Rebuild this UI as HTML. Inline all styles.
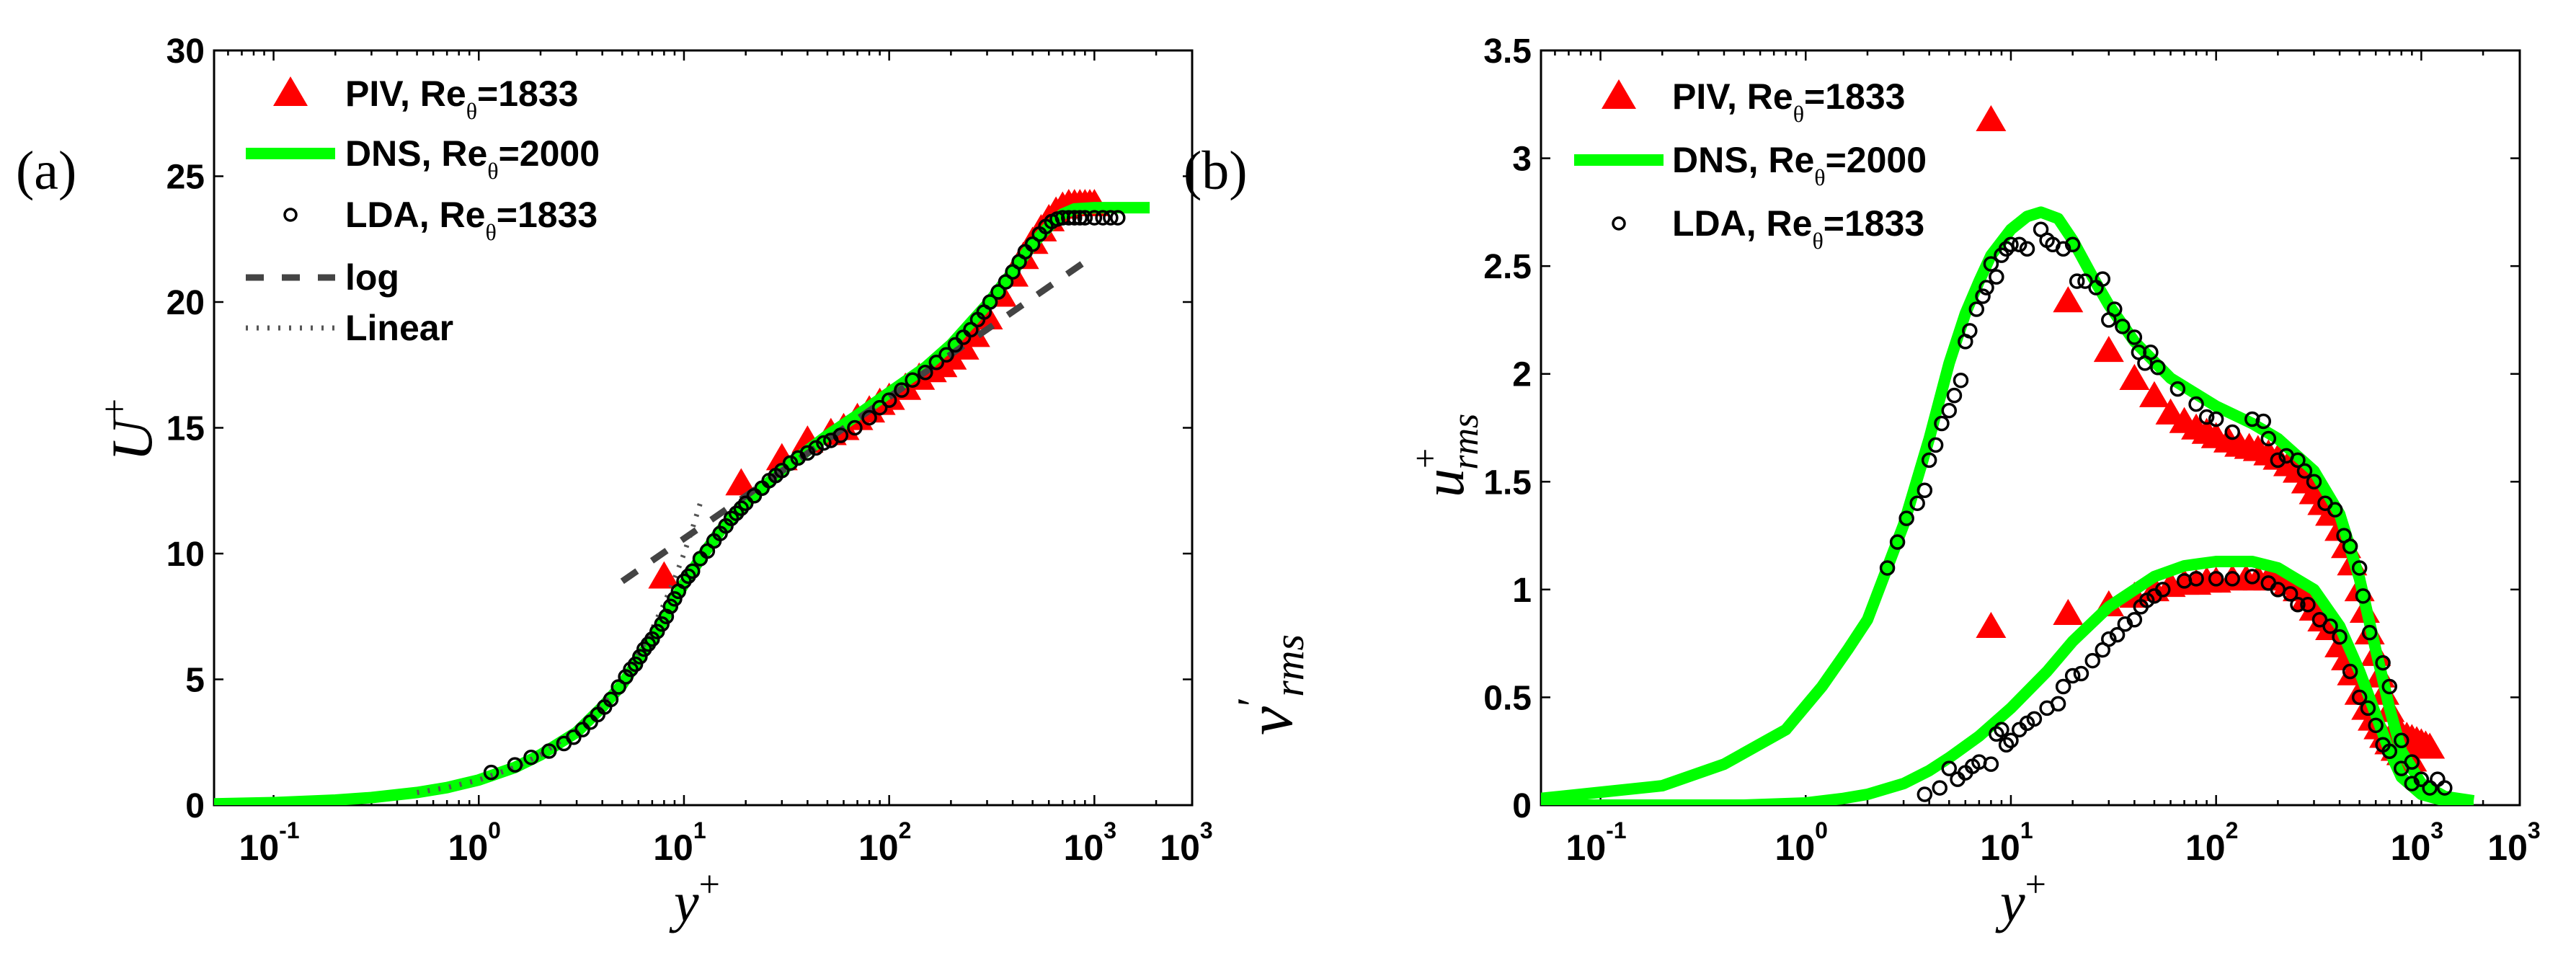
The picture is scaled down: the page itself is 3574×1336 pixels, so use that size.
<!DOCTYPE html>
<html><head><meta charset="utf-8"><style>
html,body{margin:0;padding:0;background:#fff}
svg{display:block}
.tk{font-family:"Liberation Sans Narrow","Liberation Sans",sans-serif;font-weight:bold;fill:#000}
.sr{font-family:"Liberation Serif","DejaVu Serif",serif;fill:#000}
</style></head><body>
<svg id="fig" width="3574" height="1336" viewBox="0 0 3574 1336" xmlns="http://www.w3.org/2000/svg">
<rect x="0" y="0" width="3574" height="1336" fill="#fff"/>
<text class="sr" x="22" y="262" font-size="76">(a)</text>
<text class="sr" x="1642" y="262" font-size="76">(b)</text>
<text class="sr" font-style="italic" font-size="80" transform="translate(210,640) rotate(-90)">U<tspan font-size="52" dy="-34" font-style="normal">+</tspan></text>
<text class="sr" font-style="italic" font-size="80" transform="translate(2030,690) rotate(-90)">u<tspan font-size="50" dy="-36" font-style="normal">+</tspan><tspan font-size="52" dy="56" dx="-30">rms</tspan></text>
<text class="sr" font-style="italic" font-size="90" transform="translate(1792,1020) rotate(-90)">v<tspan font-size="60" dy="-34" font-style="normal">′</tspan><tspan font-size="58" dy="50">rms</tspan></text>
<text class="sr" font-style="italic" font-size="78" x="935" y="1278">y<tspan font-size="52" dy="-34" font-style="normal">+</tspan></text>
<text class="sr" font-style="italic" font-size="78" x="2775" y="1278">y<tspan font-size="52" dy="-34" font-style="normal">+</tspan></text>
</svg>
<script>
// ---------- data: left panel (mean velocity) ----------
const dnsU_y=[0.05,0.1,0.2,0.3,0.5,0.7,1,1.5,2,3,4,5,7,10,12,15,20,30,40,50,70,100,150,200,300,400,500,600,700,800,1000,1400,1860];
const dnsU_v=[0.05,0.1,0.2,0.3,0.5,0.7,1,1.5,2,2.9,3.9,4.8,6.6,8.8,9.8,10.9,12.0,13.3,14.1,14.7,15.5,16.4,17.4,18.3,19.9,21.2,22.3,23.0,23.5,23.7,23.75,23.75,23.75];
const pivU_y=[8,19,30,40,52,60,70,80,90,100,120,140,160,180,200,230,260,300,350,400,450,500,550,600,650,700,750,800,850,900,950,1000];
const pivU_v=[9.1,12.8,13.8,14.5,14.8,15.0,15.4,15.7,16.0,16.2,16.6,17.0,17.3,17.5,17.8,18.2,18.7,19.4,20.3,21.1,21.8,22.4,22.9,23.3,23.6,23.8,23.9,23.9,23.9,23.9,23.9,23.9];
const ldaU_y=[1.15,1.5,1.8,2.2,2.6,2.9,3.2,3.5,3.8,4.1,4.4,4.8,5.2,5.5,5.8,6.1,6.4,6.7,7,7.4,7.8,8.2,8.6,9,9.4,10,10.5,11,12,13,14,15,16,17,18,19,20,22,24,26,28,30,33,36,40,44,48,52,58,68,80,90,100,115,130,150,170,190,210,230,250,270,290,310,340,370,400,430,460,500,540,580,620,660,700,750,800,850,900,1000,1100,1200,1300];
const ldaU_v=[1.3,1.6,1.9,2.15,2.45,2.7,3.0,3.3,3.6,3.9,4.2,4.7,5.1,5.4,5.6,5.9,6.2,6.4,6.6,6.9,7.2,7.5,7.9,8.2,8.5,8.9,9.1,9.3,9.8,10.1,10.5,10.8,11.1,11.4,11.6,11.8,12.0,12.3,12.6,12.9,13.1,13.3,13.6,13.8,14.0,14.2,14.4,14.5,14.7,15.0,15.4,15.8,16.1,16.5,16.9,17.2,17.6,17.9,18.3,18.6,18.9,19.3,19.6,20.0,20.4,20.8,21.2,21.6,22.0,22.3,22.7,23.0,23.2,23.3,23.35,23.35,23.35,23.35,23.35,23.35,23.35,23.35,23.35];
const logLaw_y=[5,900];
const logLaw_v=[8.9,21.6];
const linLaw_y=[0.5,0.7,1,1.5,2,3,4,5,6,7,8,9,10,11,12];
const linLaw_v=[0.5,0.7,1,1.5,2,3,4,5,6,7,8,9,10,11,12];
const ticksU=[0,5,10,15,20,25,30];
const tickLabelsU=["0","5","10","15","20","25","30"];
// ---------- data: right panel (rms) ----------
const dnsUrms_y=[0.05,0.1,0.2,0.4,0.8,1.2,1.6,2,3,4,5,6,7,8,10,12,14,17,20,25,30,40,60,100,150,200,300,400,500,600,700,800,1000,1300,1800];
const dnsUrms_v=[0.03,0.06,0.09,0.19,0.35,0.55,0.72,0.86,1.3,1.7,2.05,2.28,2.43,2.55,2.67,2.73,2.75,2.72,2.62,2.45,2.32,2.15,1.98,1.85,1.77,1.70,1.55,1.35,1.05,0.72,0.45,0.25,0.1,0.04,0.02];
const dnsVrms_y=[0.05,0.5,1,1.5,2,3,4,5,7,10,15,20,30,50,70,100,150,200,300,400,500,600,700,800,1000,1300,1800];
const dnsVrms_v=[0.0,0.0,0.01,0.03,0.05,0.1,0.16,0.22,0.32,0.45,0.62,0.76,0.92,1.06,1.11,1.13,1.13,1.10,1.0,0.83,0.62,0.42,0.25,0.13,0.05,0.02,0.02];
const pivUrms_y=[8,19,30,40,50,60,70,80,90,100,115,130,145,160,180,200,225,250,275,300,330,360,400,430,460,500,530,560,600,630,660,700,750,800,850,900,950,1000,1050,1100];
const pivUrms_v=[3.18,2.34,2.11,1.98,1.9,1.82,1.78,1.75,1.73,1.71,1.69,1.67,1.66,1.65,1.63,1.61,1.58,1.55,1.5,1.45,1.4,1.35,1.28,1.2,1.12,1.0,0.9,0.8,0.7,0.6,0.52,0.44,0.36,0.33,0.32,0.31,0.3,0.29,0.28,0.27];
const pivVrms_y=[8,19,30,40,50,60,70,80,90,100,120,140,160,180,200,225,250,275,300,330,360,400,430,460,500,540,580,620,660,700,750,800,850,900];
const pivVrms_v=[0.83,0.89,0.93,0.97,1.0,1.02,1.03,1.03,1.04,1.04,1.05,1.05,1.05,1.05,1.05,1.03,1.0,0.96,0.91,0.86,0.82,0.74,0.68,0.61,0.52,0.45,0.4,0.36,0.32,0.29,0.26,0.24,0.22,0.21];
const ldaUrms_y=[2.5,2.8,3.1,3.5,3.8,4,4.3,4.6,5,5.3,5.7,6,6.3,6.8,7.3,7.6,8,8.5,9,9.5,10,11,12,14,15,16,18,20,21,23,26,28,30,32,35,40,42,45,48,52,65,80,90,100,120,150,170,180,200,220,250,270,300,340,380,420,450,500,520,560,650,700,800,900,1000,1100,1200,1300];
const ldaUrms_v=[1.1,1.22,1.33,1.4,1.46,1.6,1.67,1.77,1.83,1.9,1.97,2.15,2.2,2.3,2.36,2.4,2.51,2.45,2.55,2.58,2.6,2.6,2.58,2.67,2.62,2.6,2.58,2.6,2.43,2.43,2.4,2.44,2.25,2.3,2.22,2.17,2.1,2.05,2.1,2.03,1.93,1.86,1.8,1.79,1.73,1.79,1.78,1.7,1.6,1.62,1.6,1.55,1.5,1.4,1.37,1.25,1.2,1.1,0.97,0.8,0.66,0.55,0.3,0.2,0.12,0.08,0.12,0.08];
const ldaVrms_y=[3.8,4.5,5,5.5,6,6.5,7,8,8.5,9,9.5,10,11,12,13,15,17,18,20,22,25,28,30,33,36,40,43,46,50,55,70,80,100,120,150,180,200,230,250,280,320,360,400,450,500,550,600,650,700,800,900];
const ldaVrms_v=[0.05,0.08,0.17,0.12,0.15,0.18,0.2,0.19,0.33,0.35,0.28,0.3,0.35,0.38,0.4,0.45,0.47,0.55,0.6,0.61,0.67,0.72,0.77,0.79,0.84,0.86,0.92,0.95,0.97,1.0,1.04,1.05,1.05,1.05,1.06,1.03,1.0,0.98,0.93,0.93,0.86,0.83,0.78,0.62,0.5,0.45,0.37,0.28,0.25,0.17,0.1];
const ticksR=[0,0.5,1,1.5,2,2.5,3,3.5];
const tickLabelsR=["0","0.5","1","1.5","2","2.5","3","3.5"];
const decades=[-1,0,1,2,3];

const NS="http://www.w3.org/2000/svg";
const svg=document.getElementById('fig');
const TOP=70,BOT=1117,DEC=284.7,LMIN=-1.29;
function mkX(x0){return v=>x0+(Math.log10(v)-LMIN)*DEC;}
function mkY(max){return v=>BOT-(v/max)*(BOT-TOP);}
function add(tag,attrs,parent){const e=document.createElementNS(NS,tag);for(const k in attrs)e.setAttribute(k,attrs[k]);(parent||svg).appendChild(e);return e;}

function panel(x0,x1,ymax,yt,ytl,pfx){
  const X=mkX(x0),Y=mkY(ymax);
  const g=add('g',{});
  
  
  const fr=add('rect',{x:x0,y:TOP,width:x1-x0,height:BOT-TOP,fill:'none',stroke:'#000','stroke-width':3},g);
  
  
  for(let d=-2;d<=3;d++){for(let m=1;m<=9;m++){const v=m*Math.pow(10,d);const px=X(v);if(px<x0+1||px>x1-1)continue;const L=m===1?14:7;
    add('line',{x1:px,y1:BOT,x2:px,y2:BOT-L,stroke:'#000','stroke-width':2.5},g);
    add('line',{x1:px,y1:TOP,x2:px,y2:TOP+L,stroke:'#000','stroke-width':2.5},g);}}
  decades.forEach(d=>{const px=X(Math.pow(10,d));
    const t=add('text',{x:px-6,y:1193,'text-anchor':'middle','font-size':50,class:'tk'},g);
    
    
    t.textContent='10';
    const s=add('tspan',{dy:-30,'font-size':32},t);s.textContent=String(d);});
  const te=add('text',{x:x1-8,y:1193,'text-anchor':'middle','font-size':50,class:'tk'},g);
  
  
  te.textContent='10';const se=add('tspan',{dy:-30,'font-size':32},te);se.textContent='3';
  yt.forEach((v,i)=>{const py=Y(v);
    add('line',{x1:x0,y1:py,x2:x0+13,y2:py,stroke:'#000','stroke-width':2.5},g);
    add('line',{x1:x1,y1:py,x2:x1-13,y2:py,stroke:'#000','stroke-width':2.5},g);
    const t=add('text',{x:x0-13,y:py+17,'text-anchor':'end','font-size':48,class:'tk'},g);
    
    
    t.textContent=ytl[i];});
  return {X,Y,x0,x1};
}
function clip(id,x0,x1){const c=add('clipPath',{id:id});add('rect',{x:x0,y:TOP-40,width:x1-x0+200,height:BOT-TOP+40},c);}
function tri(P,xs,vs,name,size){
  const g=add('g',{fill:'#ff0000'});
  
  
  xs.forEach((x,i)=>{const cx=P.X(x),cy=P.Y(vs[i]);const w=size,h=size*0.86;
    const p=add('polygon',{points:`${cx},${cy-h*0.55} ${cx-w/2},${cy+h*0.45} ${cx+w/2},${cy+h*0.45}`},g);
    
    });
}
function line(P,xs,vs,name,attrs){
  const d=xs.map((x,i)=>(i?'L':'M')+P.X(x).toFixed(1)+','+P.Y(vs[i]).toFixed(1)).join(' ');
  const p=add('path',Object.assign({d:d,fill:'none'},attrs));
  
  
}
function circ(P,xs,vs,name){
  const g=add('g',{fill:'none',stroke:'#000','stroke-width':3.5});
  
  
  xs.forEach((x,i)=>{const c=add('circle',{cx:P.X(x),cy:P.Y(vs[i]),r:9},g);
    
    });
}
function legend(x0,rows,tx,withExtra){
  const g=add('g',{});
  
  
  const mx=x0+62;
  const a=add('polygon',{points:`${mx},${rows[0]-24} ${mx-24},${rows[0]+17} ${mx+24},${rows[0]+17}`,fill:'#ff0000'},g);
  
  
  const b=add('line',{x1:x0,y1:rows[1],x2:x0+124,y2:rows[1],stroke:'#00ff00','stroke-width':16},g);
  
  
  const c=add('circle',{cx:mx,cy:rows[2],r:8,fill:'none',stroke:'#000','stroke-width':3.5},g);
  
  
  const labs=[['PIV, Re','=1833'],['DNS, Re','=2000'],['LDA, Re','=1833']];
  labs.forEach((l,i)=>{const t=add('text',{x:tx,y:rows[i]+17,'font-size':50,class:'tk'},g);
    
    
    t.appendChild(document.createTextNode(l[0]));
    const s=add('tspan',{dy:18,'font-size':32,style:'font-family:"Liberation Serif",serif;font-weight:normal'},t);s.textContent='θ';
    const s2=add('tspan',{dy:-18},t);s2.textContent=l[1];});
  if(withExtra){
    const d=add('line',{x1:x0,y1:rows[3],x2:x0+124,y2:rows[3],stroke:'#444','stroke-width':9,'stroke-dasharray':'25 25'},g);
    
    
    const e=add('line',{x1:x0,y1:rows[4],x2:x0+124,y2:rows[4],stroke:'#555','stroke-width':7,'stroke-dasharray':'3 12'},g);
    
    
    [['log',3],['Linear',4]].forEach(([s,i])=>{const t=add('text',{x:tx,y:rows[i]+17,'font-size':50,class:'tk'},g);
      
      
      t.textContent=s;});
  }
}
const PL=panel(297,1654,30,ticksU,tickLabelsU,'left');
clip('cl',297,1654);
tri(PL,pivU_y,pivU_v,'piv-mean-velocity',44);
line(PL,dnsU_y,dnsU_v,'dns-mean-velocity',{stroke:'#00ff00','stroke-width':16,'clip-path':'url(#cl)'});
line(PL,linLaw_y,linLaw_v,'linear-law-line',{stroke:'#555','stroke-width':7,'stroke-dasharray':'3 12'});
line(PL,logLaw_y,logLaw_v,'log-law-line',{stroke:'#444','stroke-width':9,'stroke-dasharray':'25 25'});
circ(PL,ldaU_y,ldaU_v,'lda-mean-velocity');
legend(341,[130,213,298,385,455],479,true);
const PR=panel(2138,3496,3.5,ticksR,tickLabelsR,'right');
clip('cr',2138,3496);
tri(PR,pivUrms_y,pivUrms_v,'piv-urms',42);
tri(PR,pivVrms_y,pivVrms_v,'piv-vrms',42);
line(PR,dnsUrms_y,dnsUrms_v,'dns-urms',{stroke:'#00ff00','stroke-width':16,'stroke-linejoin':'round','clip-path':'url(#cr)'});
line(PR,dnsVrms_y,dnsVrms_v,'dns-vrms',{stroke:'#00ff00','stroke-width':16,'stroke-linejoin':'round','clip-path':'url(#cr)'});
circ(PR,ldaUrms_y,ldaUrms_v,'lda-urms');
circ(PR,ldaVrms_y,ldaVrms_v,'lda-vrms');
legend(2184,[134,222,310],2320,false);
</script>
</body></html>
